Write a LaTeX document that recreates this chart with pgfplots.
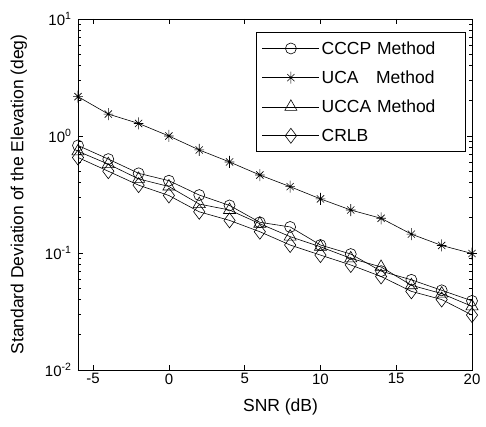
\documentclass[border=0pt]{standalone}
\usepackage{pgfplots}
\pgfplotsset{compat=1.18}
\usepackage{fontspec}
\setmainfont{Liberation Sans}
\pgfdeclareplotmark{mstar}{%
 \pgfpathmoveto{\pgfqpoint{-0.8\pgfplotmarksize}{0pt}}\pgfpathlineto{\pgfqpoint{0.8\pgfplotmarksize}{0pt}}%
 \pgfpathmoveto{\pgfqpoint{0pt}{-\pgfplotmarksize}}\pgfpathlineto{\pgfqpoint{0pt}{\pgfplotmarksize}}%
 \pgfpathmoveto{\pgfqpoint{-.6\pgfplotmarksize}{-.6\pgfplotmarksize}}\pgfpathlineto{\pgfqpoint{.6\pgfplotmarksize}{.6\pgfplotmarksize}}%
 \pgfpathmoveto{\pgfqpoint{-.6\pgfplotmarksize}{.6\pgfplotmarksize}}\pgfpathlineto{\pgfqpoint{.6\pgfplotmarksize}{-.6\pgfplotmarksize}}%
 \pgfusepathqstroke}
\begin{document}
\begin{tikzpicture}
\begin{axis}[
  scale only axis,
  width=394pt, height=351pt,
  ymode=log,
  xmin=-6, xmax=20, ymin=0.01, ymax=10,
  xtick={-5,0,5,10,15,20},
  ytick={0.01,0.1,1,10},
  yticklabels={10\textsuperscript{-2},10\textsuperscript{-1},10\textsuperscript{0},10\textsuperscript{1}},
  /pgf/number format/assume math mode=true,
  xticklabel style={font=\fontsize{15}{17}\selectfont},
  yticklabel style={font=\fontsize{15}{17}\selectfont, xshift=-3pt},
  tick align=inside,
  major tick length=5pt, minor tick length=3pt,
  tick style={black, line width=0.6pt},
  axis line style={line width=0.8pt},
  xlabel={SNR (dB)},
  ylabel={Standard Deviation of the Elevation (deg)},
  label style={font=\fontsize{17.5}{20}\selectfont},
  xlabel style={at={(axis description cs:0.514,-0.105)}, anchor=center},
  ylabel style={at={(axis description cs:-0.150,0.5)}, anchor=center},
  legend style={at={(0.985,0.963)}, anchor=north east, draw=black, line width=0.8pt,
    font=\fontsize{17.5}{20}\selectfont, row sep=11pt, inner xsep=6pt, inner ysep=7pt,
    cells={anchor=west, text width=136pt, align=left}},
  legend image code/.code={%
    \draw[mark repeat=2,mark phase=2,#1] plot coordinates {(0pt,0pt) (28.5pt,0pt) (57pt,0pt)};},
  every axis plot/.append style={black, line width=0.6pt, mark options={solid, fill=white, line width=0.6pt}},
]
\addplot[mark=o, mark size=5.5pt] coordinates {
(-6,0.83) (-4,0.635) (-2,0.48) (0,0.415) (2,0.313) (4,0.255) (6,0.183) (8,0.167) (10,0.117) (12,0.098) (14,0.070) (16,0.059) (18,0.048) (20,0.039)};
\addlegendentry{CCCP Method}
\addplot[mark=mstar, mark size=6pt] coordinates {
(-6,2.17) (-4,1.54) (-2,1.28) (0,1.0) (2,0.76) (4,0.60) (6,0.464) (8,0.369) (10,0.29) (12,0.233) (14,0.198) (16,0.145) (18,0.116) (20,0.099)};
\addlegendentry{UCA\ \ \ Method}
\addplot[mark=triangle, mark size=7pt] coordinates {
(-6,0.74) (-4,0.575) (-2,0.43) (0,0.37) (2,0.262) (4,0.233) (6,0.178) (8,0.138) (10,0.113) (12,0.090) (14,0.076) (16,0.053) (18,0.045) (20,0.035)};
\addlegendentry{UCCA Method}
\addplot[mark=diamond, mark size=7.5pt] coordinates {
(-6,0.655) (-4,0.50) (-2,0.38) (0,0.31) (2,0.225) (4,0.19) (6,0.152) (8,0.117) (10,0.096) (12,0.079) (14,0.063) (16,0.047) (18,0.040) (20,0.0295)};
\addlegendentry{CRLB}
\end{axis}
\pgfresetboundingbox
\path[use as bounding box] ([shift={(-78pt,-57pt)}]current axis.south west) rectangle ([shift={(14pt,19pt)}]current axis.north east);
\end{tikzpicture}
\end{document}
